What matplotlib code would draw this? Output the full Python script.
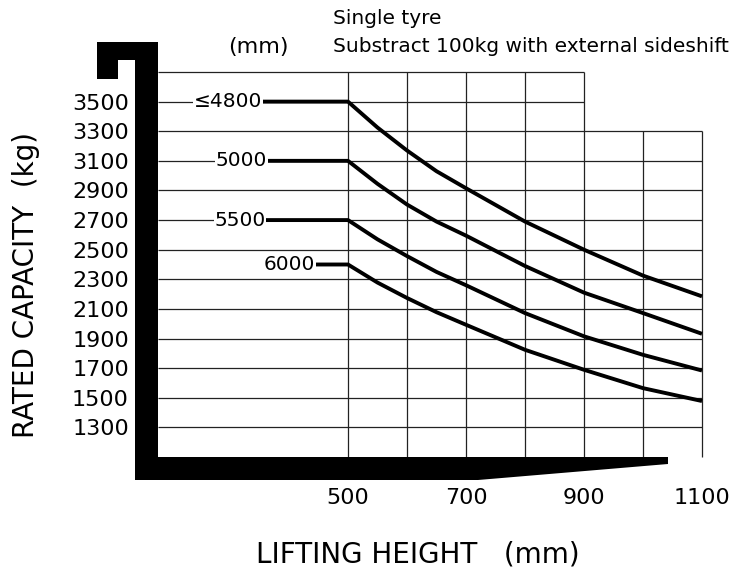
import matplotlib
matplotlib.use("Agg")
import matplotlib.pyplot as plt
from matplotlib.patches import Polygon

# Data
heights = [500, 550, 600, 650, 700, 800, 900, 1000, 1100]   # lifting height (mm)
mast_labels = ["≤4800", "5000", "5500", "6000"]
cap_4800 = [3500, 3325, 3170, 3030, 2915, 2690, 2500, 2325, 2185]
cap_5000 = [3100, 2945, 2805, 2690, 2595, 2390, 2210, 2072, 1932]
cap_5500 = [2700, 2570, 2457, 2350, 2260, 2072, 1915, 1790, 1684]
cap_6000 = [2400, 2278, 2174, 2078, 1993, 1824, 1689, 1565, 1478]
label_end_x = [355, 363, 360, 444]                     # where flat part starts
y_ticks = [1300, 1500, 1700, 1900, 2100, 2300, 2500, 2700, 2900, 3100, 3300, 3500]
x_ticks = [500, 700, 900, 1100]

W, H = 741, 581
plt.rcParams['font.family'] = ['DejaVu Sans']

fig = plt.figure(figsize=(W / 100, H / 100), dpi=100)
ax = fig.add_axes([158 / W, 1 - 457 / H, (702 - 158) / W, (457 - 72) / H])
ax.set_xlim(178, 1100)
ax.set_ylim(1100, 3700)
for s in ax.spines.values():
    s.set_visible(False)

# grid (stepped top-right corner)
grid_kw = dict(color='#222222', lw=0.9, zorder=1, clip_on=False)
for y in y_ticks + [3700]:
    x_end = 900 if y >= 3500 else 1100
    ax.hlines(y, 178, x_end, **grid_kw)
for x in range(500, 1101, 100):
    y_top = 3700 if x <= 900 else 3300
    ax.vlines(x, 1100, y_top, **grid_kw)

# capacity curves with flat part and label
for lab, caps, x0 in zip(mast_labels, [cap_4800, cap_5000, cap_5500, cap_6000], label_end_x):
    ax.plot([x0] + heights, [caps[0]] + caps, color='black', lw=2.8,
            solid_capstyle='butt', solid_joinstyle='round', zorder=3, clip_on=False)
    ax.text(x0, caps[0], lab, ha='right', va='center', fontsize=14.5,
            bbox=dict(facecolor='white', edgecolor='none', pad=0.5), zorder=4)

ax.set_yticks(y_ticks)
ax.set_yticklabels([str(v) for v in y_ticks], fontsize=16)
ax.set_xticks(x_ticks)
ax.set_xticklabels([str(v) for v in x_ticks], fontsize=16)
ax.tick_params(length=0)
ax.tick_params(axis='y', pad=21)
ax.tick_params(axis='x', pad=22)

# black mast-shaped frame
frame_px = [(97, 42), (158, 42), (158, 457), (668, 457), (668, 464), (478, 480),
            (135, 480), (135, 60), (118, 60), (118, 79), (97, 79)]
frame = Polygon([(x / W, 1 - y / H) for x, y in frame_px], closed=True,
                facecolor='black', edgecolor='none', transform=fig.transFigure)
fig.add_artist(frame)

fig.text(258 / W, 1 - 47 / H, "(mm)", ha='center', va='center', fontsize=16)
fig.text(333 / W, 1 - 18 / H, "Single tyre", ha='left', va='center', fontsize=14.5)
fig.text(333 / W, 1 - 46 / H, "Substract 100kg with external sideshift",
         ha='left', va='center', fontsize=14.5)
fig.text(26 / W, 1 - 285 / H, "RATED CAPACITY  (kg)", rotation=90,
         ha='center', va='center', fontsize=20)
fig.text(418 / W, 1 - 555 / H, "LIFTING HEIGHT   (mm)", ha='center', va='center',
         fontsize=20)

fig.savefig("out.png", dpi=100)
